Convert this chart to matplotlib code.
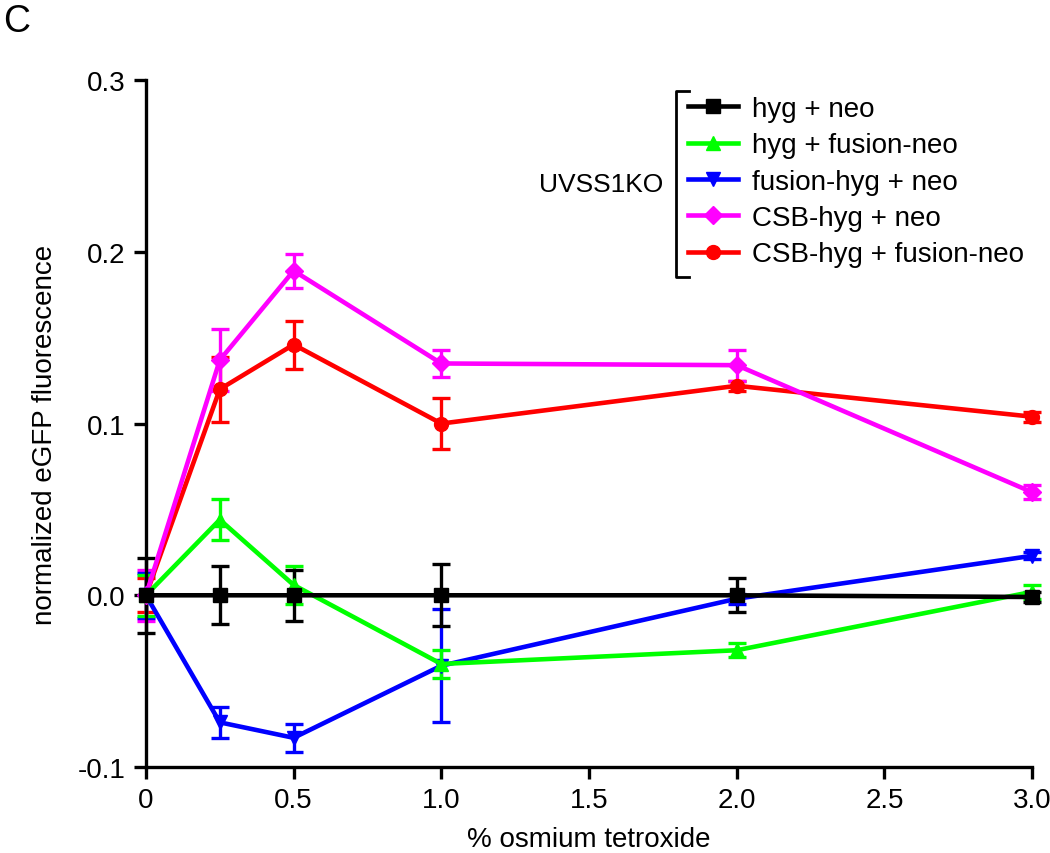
import matplotlib
matplotlib.use("Agg")
import matplotlib.pyplot as plt
from matplotlib.lines import Line2D

plt.rcParams["font.family"] = ["Liberation Sans", "DejaVu Sans"]

# % osmium tetroxide
dose = [0, 0.25, 0.5, 1.0, 2.0, 3.0]

hyg_neo = [0.0, 0.0, 0.0, 0.0, 0.0, -0.001]
hyg_neo_err = [0.022, 0.017, 0.015, 0.018, 0.010, 0.003]

hyg_fneo = [0.0, 0.044, 0.006, -0.040, -0.032, 0.002]
hyg_fneo_err = [0.012, 0.012, 0.011, 0.008, 0.004, 0.004]

fhyg_neo = [0.0, -0.074, -0.083, -0.041, -0.002, 0.023]
fhyg_neo_err = [0.013, 0.009, 0.008, 0.033, 0.003, 0.002]

csb_neo = [0.0, 0.137, 0.189, 0.135, 0.134, 0.060]
csb_neo_err = [0.015, 0.018, 0.010, 0.008, 0.009, 0.004]

csb_fneo = [0.0, 0.120, 0.146, 0.100, 0.122, 0.104]
csb_fneo_err = [0.010, 0.019, 0.014, 0.015, 0.003, 0.003]

series = [
    ("CSB-hyg + fusion-neo", csb_fneo, csb_fneo_err, "#ff0000", "o"),
    ("CSB-hyg + neo", csb_neo, csb_neo_err, "#ff00ff", "D"),
    ("fusion-hyg + neo", fhyg_neo, fhyg_neo_err, "#0000ff", "v"),
    ("hyg + fusion-neo", hyg_fneo, hyg_fneo_err, "#00ff00", "^"),
    ("hyg + neo", hyg_neo, hyg_neo_err, "#000000", "s"),
]
legend_order = ["hyg + neo", "hyg + fusion-neo", "fusion-hyg + neo",
                "CSB-hyg + neo", "CSB-hyg + fusion-neo"]

FS = 20

fig = plt.figure(figsize=(10.5, 8.54), dpi=100)
ax = fig.add_axes([0.139, 0.1007, 0.844, 0.8043])

handles = {}
for name, ys, err, col, mk in series:
    ms = 9 if mk == "D" else 10
    ax.errorbar(dose, ys, yerr=err, color=col, lw=3.3, marker=mk, ms=ms,
                capsize=6.5, capthick=2.4, elinewidth=2.4, clip_on=False, zorder=3)
    handles[name] = Line2D([], [], color=col, lw=3.3, marker=mk, ms=ms)

ax.set_xlim(0, 3.0)
ax.set_ylim(-0.1, 0.3)
ax.set_xticks([0, 0.5, 1.0, 1.5, 2.0, 2.5, 3.0])
ax.set_xticklabels(["0", "0.5", "1.0", "1.5", "2.0", "2.5", "3.0"])
ax.set_yticks([-0.1, 0.0, 0.1, 0.2, 0.3])
ax.set_yticklabels(["-0.1", "0.0", "0.1", "0.2", "0.3"])
for s in ("top", "right"):
    ax.spines[s].set_visible(False)
for s in ("left", "bottom"):
    ax.spines[s].set_linewidth(2.4)
ax.tick_params(width=2.4, length=8.5, labelsize=FS, pad=6)

ax.set_xlabel("% osmium tetroxide", fontsize=FS, labelpad=9)
ax.set_ylabel("normalized eGFP fluorescence", fontsize=FS)
ax.yaxis.set_label_coords(-0.099, 0.485)

ax.legend([handles[n] for n in legend_order], legend_order, frameon=False,
          fontsize=FS, loc="upper left", bbox_to_anchor=(677 / 1050, 1 - 86 / 854),
          bbox_transform=fig.transFigure, borderaxespad=0,
          handlelength=1.8, handletextpad=0.5, labelspacing=0.37)

# bracket grouping the legend entries
bx, btop, bbot = 676 / 1050, 1 - 92 / 854, 1 - 278 / 854
fig.add_artist(Line2D([bx + 0.012, bx, bx, bx + 0.012], [btop, btop, bbot, bbot],
                      color="black", lw=2, transform=fig.transFigure))
fig.text(bx - 0.012, (btop + bbot) / 2, "UVSS1KO", fontsize=FS - 1,
         ha="right", va="center")

fig.text(0.003, 0.995, "C", fontsize=27, ha="left", va="top")

fig.savefig("out.png", dpi=100)
